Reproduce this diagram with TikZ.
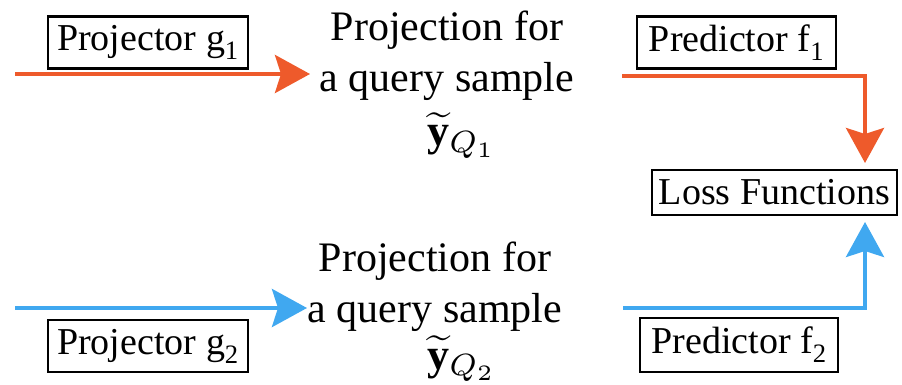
\documentclass[tikz,border=0pt]{standalone}
\usepackage{fontspec}
\setmainfont{Liberation Serif}
\usetikzlibrary{arrows.meta}
\definecolor{orangeline}{HTML}{EE5A2B}
\definecolor{blueline}{HTML}{40A8F0}
\begin{document}
\begin{tikzpicture}[x=1pt,y=-1pt,
  labelbox/.style={draw=black,line width=2.7pt,inner sep=0pt,font=\fontsize{38}{42}\selectfont},
  centertext/.style={align=center,inner sep=0pt,font=\fontsize{42}{51}\selectfont},
  mathtext/.style={inner sep=0pt,scale=4.4,anchor=base},
  flow/.style={line width=4pt,-{Stealth[length=35pt,width=38pt,inset=6pt]}},
  orangeflow/.style={flow,draw=orangeline},
  blueflow/.style={flow,draw=blueline}]
\useasboundingbox (0,0) rectangle (902,385);
% boxes
\node[labelbox,minimum width=200pt,minimum height=52pt] (pg1) at (148,42.5) {Projector g\textsubscript{1}};
\node[labelbox,minimum width=199pt,minimum height=52pt] (pf1) at (736.5,42.5) {Predictor f\textsubscript{1}};
\node[labelbox,minimum width=245pt,minimum height=45pt] (loss) at (774.5,192.5) {Loss Functions};
\node[labelbox,minimum width=200pt,minimum height=52pt] (pg2) at (148,346) {Projector g\textsubscript{2}};
\node[labelbox,minimum width=198pt,minimum height=54pt] (pf2) at (739,345) {Predictor f\textsubscript{2}};
% center texts
\node[centertext,anchor=north] (proj1) at (447,11) {Projection for\\a query sample};
\node[mathtext] (y1) at (462,146) {$\widetilde{\mathbf{y}}_{Q_1}$};
\node[centertext,anchor=north] (proj2) at (435,242) {Projection for\\a query sample};
\node[mathtext] (y2) at (462,369) {$\widetilde{\mathbf{y}}_{Q_2}$};
% coordinates
\coordinate (in1) at (15,74);
\coordinate (tip1) at (310,74);
\coordinate (out1) at (622,76);
\coordinate (in2) at (15,308);
\coordinate (tip2) at (307,308);
\coordinate (out2) at (623,308);
\coordinate (lossin1) at (865,163);
\coordinate (lossin2) at (865,222);
% connectors
\draw[orangeflow] (in1) -- (tip1);
\draw[orangeflow] (out1) -| (lossin1);
\draw[blueflow] (in2) -- (tip2);
\draw[blueflow] (out2) -| (lossin2);
\end{tikzpicture}
\end{document}
